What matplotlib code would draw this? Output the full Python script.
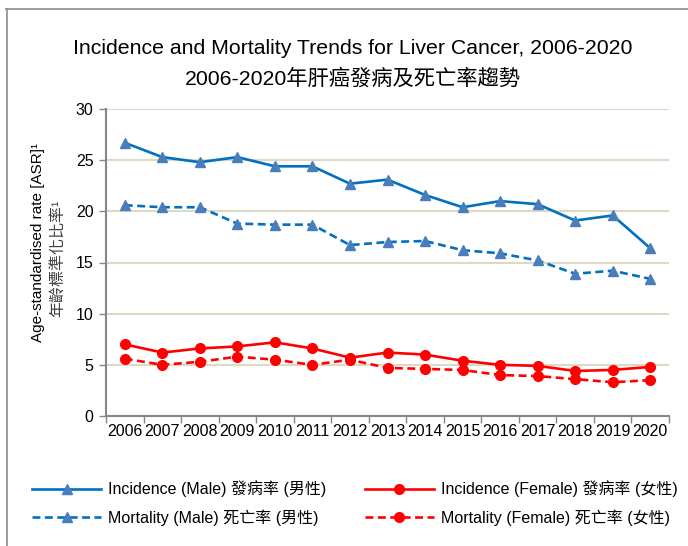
import matplotlib
matplotlib.use("Agg")
import matplotlib.pyplot as plt
from matplotlib.lines import Line2D

plt.rcParams['font.family'] = ['Liberation Sans', 'Noto Sans CJK TC', 'DejaVu Sans']

years = [str(y) for y in range(2006, 2021)]
inc_male = [26.7, 25.3, 24.8, 25.3, 24.4, 24.4, 22.7, 23.1, 21.6, 20.4, 21.0, 20.7, 19.1, 19.6, 16.4]
mort_male = [20.6, 20.4, 20.4, 18.8, 18.7, 18.7, 16.7, 17.0, 17.1, 16.2, 15.9, 15.2, 13.9, 14.2, 13.4]
inc_female = [7.0, 6.2, 6.6, 6.8, 7.2, 6.6, 5.7, 6.2, 6.0, 5.4, 5.0, 4.9, 4.4, 4.5, 4.8]
mort_female = [5.6, 5.0, 5.3, 5.8, 5.5, 5.0, 5.5, 4.7, 4.6, 4.5, 4.0, 3.9, 3.6, 3.3, 3.5]

labels = ["Incidence (Male) 發病率 (男性)", "Mortality (Male) 死亡率 (男性)",
          "Incidence (Female) 發病率 (女性)", "Mortality (Female) 死亡率 (女性)"]

title1 = "Incidence and Mortality Trends for Liver Cancer, 2006-2020"
title2 = "2006-2020年肝癌發病及死亡率趨勢"
ylabel1 = "Age-standardised rate [ASR]¹"
ylabel2 = "年齡標準化比率¹"

fig = plt.figure(figsize=(6.88, 5.46), dpi=100)
ax = fig.add_axes([106/688, 1-416/546, 563/688, 307/546])

x = list(range(len(years)))
blue_line = '#0070C0'
blue_mk = '#4A7EBB'
red = '#FF0000'
lw = 1.9
dash = (0, (3, 1.7))

h1, = ax.plot(x, inc_male, color=blue_line, lw=lw, marker='^', ms=7, mfc=blue_mk, mec=blue_mk, label=labels[0])
h2, = ax.plot(x, mort_male, color=blue_line, lw=lw, ls=dash, marker='^', ms=7, mfc=blue_mk, mec=blue_mk, label=labels[1])
h3, = ax.plot(x, inc_female, color=red, lw=lw, marker='o', ms=7, mfc=red, mec=red, label=labels[2])
h4, = ax.plot(x, mort_female, color=red, lw=lw, ls=dash, marker='o', ms=7, mfc=red, mec=red, label=labels[3])

ax.set_ylim(0, 30)
ax.set_yticks(range(0, 31, 5))
ax.set_xlim(-0.5, len(years) - 0.5)
ax.set_xticks(x)
ax.set_xticklabels(years)
ax.set_xticks([i - 0.5 for i in range(len(years) + 1)], minor=True)
ax.tick_params(axis='x', which='major', length=0, pad=6, labelsize=11.5)
ax.tick_params(axis='x', which='minor', length=5, color='#868686', width=1)
ax.tick_params(axis='y', length=5, color='#868686', width=1, labelsize=11.5, pad=4)

ax.grid(axis='y', color='#DDD9C4', lw=1.5)
ax.set_axisbelow(True)
for s in ['top', 'right']:
    ax.spines[s].set_visible(False)
for s in ['left', 'bottom']:
    ax.spines[s].set_color('#868686')
    ax.spines[s].set_linewidth(1.5)

fig.text(353/688, 1-48/546, title1, ha='center', va='center', fontsize=15.3)
fig.text(353/688, 1-78/546, title2, ha='center', va='center', fontsize=15.3)
fig.text(38/688, 1-243/546, ylabel1, rotation=90, ha='center', va='center', fontsize=11)
fig.text(58/688, 1-258/546, ylabel2, rotation=90, ha='center', va='center', fontsize=11.5, color='#404040')

leg = fig.legend(handles=[h1, h2, h3, h4], ncol=2, loc='center', bbox_to_anchor=(355/688, 1-503/546),
                 frameon=False, fontsize=11.5, handlelength=4.3, handletextpad=0.45,
                 columnspacing=2.4, labelspacing=0.75)

fig.add_artist(Line2D([6/688, 1], [1-9/546, 1-9/546], transform=fig.transFigure, color='#8C8C8C', lw=1.2))
fig.add_artist(Line2D([7/688, 7/688], [0, 1-9/546], transform=fig.transFigure, color='#8C8C8C', lw=1.2))

fig.savefig('out.png', dpi=100)
